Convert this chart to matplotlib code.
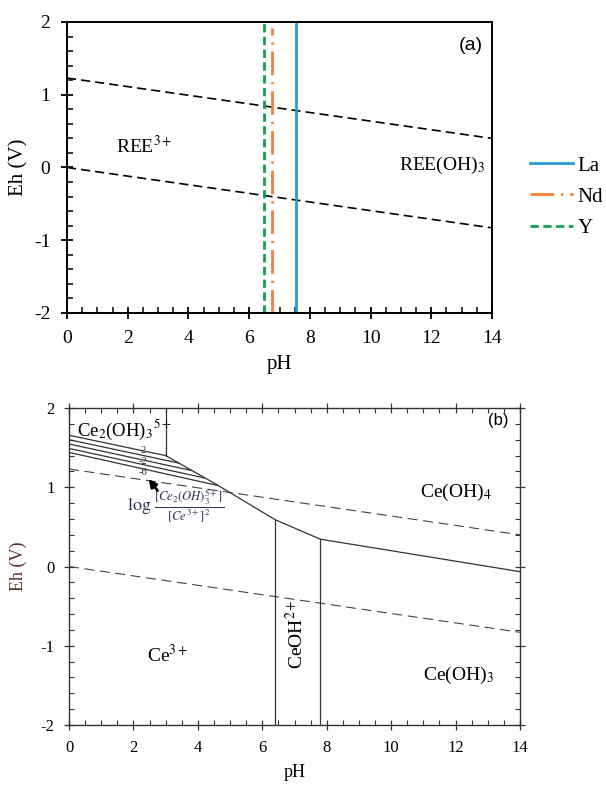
import matplotlib
matplotlib.use("Agg")
import matplotlib.pyplot as plt
from matplotlib.ticker import MultipleLocator
import numpy as np

plt.rcParams['font.family'] = ['Liberation Serif', 'DejaVu Serif']
plt.rcParams['mathtext.fontset'] = 'stix'
plt.rcParams['axes.unicode_minus'] = False

# water stability limits
ph_water = [0, 14]
eh_o2 = [1.23, 0.40]
eh_h2 = [0.0, -0.83]

# REE hydroxide precipitation pH
ree_names = ['La', 'Nd', 'Y']
ree_ph = [7.55, 6.76, 6.50]
ree_eh_top = [2.0, 1.92, 2.0]

# Ce diagram boundaries
ce_main_ph = [3.0, 4.6, 6.4, 7.8, 14.0]
ce_main_eh = [1.40, 1.03, 0.59, 0.345, -0.065]
ce_dimer_ph = [3.0, 3.0]
ce_dimer_eh = [2.0, 1.40]
ceoh_left_ph = 6.4
ceoh_left_top = 0.59
ceoh_right_ph = 7.8
ceoh_right_top = 0.345

# Ce2(OH)3(5+) iso-ratio lines: start at pH 0, end on the boundary
iso_start_eh = [1.656, 1.60, 1.546, 1.49, 1.44]
iso_end_ph = [3.0, 3.4, 3.8, 4.2, 4.6]
iso_end_eh = [1.40, 1.306, 1.212, 1.118, 1.024]
iso_labels = ['2', '-2', '-6']
iso_label_eh = [1.47, 1.32, 1.185]

xticks = [0, 2, 4, 6, 8, 10, 12, 14]
yticks = [-2, -1, 0, 1, 2]

fig = plt.figure(figsize=(6.06, 7.91), dpi=100)

# ---- (a) REE ----
ax1 = fig.add_axes([0.1106, 0.6043, 0.7013, 0.3679])
ax1.plot(ph_water, eh_o2, color='black', lw=1.2, linestyle=(0, (5.5, 3)))
ax1.plot(ph_water, eh_h2, color='black', lw=1.2, linestyle=(0, (5.5, 3)))

ree_colors = ['#2898d8', '#f58232', '#13a04f']
ree_styles = ['-', (0, (8.5, 2.5, 0.8, 2.5)), (0, (3.0, 1.6))]
for name, ph, top, c, ls in zip(ree_names, ree_ph, ree_eh_top, ree_colors, ree_styles):
    ax1.plot([ph, ph], [-2, top], color=c, lw=2.0, linestyle=ls, label=name)

ax1.text(2.55, 0.3, 'REE$^{3+}$', fontsize=14, ha='center', va='center')
ax1.text(12.35, 0.03, 'REE(OH)$_3$', fontsize=14, ha='center', va='center')
ax1.text(0.978, 0.92, '(a)', transform=ax1.transAxes, fontsize=14,
         ha='right', va='center', family='Liberation Sans')

ax1.set_xlim(0, 14)
ax1.set_ylim(-2, 2)
ax1.set_xticks(xticks)
ax1.set_yticks(yticks)
ax1.xaxis.set_minor_locator(MultipleLocator(0.5))
ax1.yaxis.set_minor_locator(MultipleLocator(0.2))
ax1.tick_params(which='major', direction='inout', length=8, width=1.3,
                labelsize=14, colors='black', pad=8)
ax1.tick_params(which='minor', direction='in', length=4, width=1.1)
for s in ax1.spines.values():
    s.set_linewidth(1.4)
ax1.set_xlabel('pH', fontsize=15, labelpad=6)
ax1.set_ylabel('Eh (V)', fontsize=15, labelpad=4)

fig.legend(loc='center left', bbox_to_anchor=(0.874, 0.751), frameon=False,
           fontsize=15, handlelength=2.1, labelspacing=0.55, handletextpad=0.2,
           borderpad=0, borderaxespad=0)

# ---- (b) Ce ----
ax2 = fig.add_axes([0.1139, 0.0834, 0.7442, 0.4008])
gray = '#333333'
ax2.plot(ph_water, eh_o2, color='#444444', lw=0.8, linestyle=(0, (9, 5)))
ax2.plot(ph_water, eh_h2, color='#444444', lw=0.8, linestyle=(0, (9, 5)))
ax2.plot(ce_main_ph, ce_main_eh, color=gray, lw=0.9)
ax2.plot(ce_dimer_ph, ce_dimer_eh, color=gray, lw=0.9)
ax2.plot([ceoh_left_ph, ceoh_left_ph], [-2, ceoh_left_top], color=gray, lw=0.9)
ax2.plot([ceoh_right_ph, ceoh_right_ph], [-2, ceoh_right_top], color=gray, lw=0.9)
for e0, p1, e1 in zip(iso_start_eh, iso_end_ph, iso_end_eh):
    ax2.plot([0, p1], [e0, e1], color=gray, lw=0.9)
for lab, e in zip(iso_labels, iso_label_eh):
    ax2.text(2.3, e, lab, fontsize=7.5, color='#2a3556', ha='center', va='center')

ax2.annotate('', xy=(2.42, 1.13), xytext=(2.8, 0.93),
             arrowprops=dict(arrowstyle='-|>', color='black', lw=2.0,
                             mutation_scale=11))
ax2.text(3.3, 0.76, r'$\log\,\frac{[Ce_2(OH)_3^{5+}]}{[Ce^{3+}]^2}$',
         fontsize=13, color='#2a3556', ha='center', va='center')

ax2.text(0.25, 1.72, 'Ce$_2$(OH)$_3$$^{5+}$', fontsize=13.5, ha='left', va='center')
ax2.text(12.0, 0.93, 'Ce(OH)$_4$', fontsize=14, ha='center', va='center')
ax2.text(3.05, -1.12, 'Ce$^{3+}$', fontsize=14, ha='center', va='center')
ax2.text(7.05, -0.85, 'CeOH$^{2+}$', fontsize=14, ha='center', va='center',
         rotation=90)
ax2.text(12.1, -1.38, 'Ce(OH)$_3$', fontsize=14, ha='center', va='center')
ax2.text(0.975, 0.96, '(b)', transform=ax2.transAxes, fontsize=12,
         ha='right', va='center', family='Liberation Sans')

ax2.set_xlim(0, 14)
ax2.set_ylim(-2, 2)
ax2.set_xticks(xticks)
ax2.set_yticks(yticks)
ax2.xaxis.set_minor_locator(MultipleLocator(0.5))
ax2.yaxis.set_minor_locator(MultipleLocator(0.2))
ax2.tick_params(which='major', direction='inout', length=7, width=0.9,
                labelsize=12, top=True, right=True, color=gray, pad=7)
ax2.tick_params(which='minor', direction='in', length=3.5, width=0.8,
                top=True, right=True, color=gray)
for s in ax2.spines.values():
    s.set_linewidth(1.0)
    s.set_color(gray)
ax2.set_xlabel('pH', fontsize=13, labelpad=6)
ax2.set_ylabel('Eh (V)', fontsize=13, labelpad=10, color='#5a3028')

fig.savefig('out.png', dpi=100)
